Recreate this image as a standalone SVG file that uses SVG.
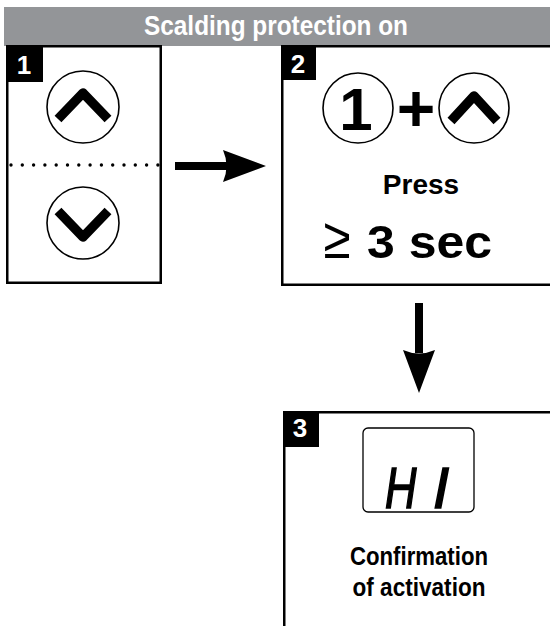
<svg xmlns="http://www.w3.org/2000/svg" width="550" height="626" viewBox="0 0 550 626">
<style>
.box{fill:#fff;stroke:#000;stroke-width:2.5}
.lbl{fill:#000}
.lt{fill:#fff;font-family:"Liberation Sans",Arial,sans-serif;font-weight:bold;font-size:26px;text-anchor:middle}
.btn{fill:none;stroke:#000;stroke-width:1.6}
.chev{fill:none;stroke:#000;stroke-width:9.5;stroke-linejoin:round;stroke-linecap:butt}
.txt{font-family:"Liberation Sans",Arial,sans-serif;font-weight:bold;fill:#000;text-anchor:middle}
</style>
<rect x="4" y="7" width="546" height="39" fill="#939598"/>
<text x="276" y="35" class="txt" style="fill:#fff;font-size:27px" textLength="264" lengthAdjust="spacingAndGlyphs">Scalding protection on</text>

<g id="step1">
<rect class="box" x="7.25" y="46.25" width="153.5" height="236.5"/>
<rect class="lbl" x="6" y="45" width="37" height="37"/>
<text class="lt" x="24" y="74">1</text>
<circle class="btn" cx="83" cy="107" r="36"/>
<polyline class="chev" points="58,119 83,93 108,119"/>
<line x1="11" y1="165" x2="158" y2="165" stroke="#000" stroke-width="3.4" stroke-linecap="round" stroke-dasharray="0 11.3"/>
<circle class="btn" cx="83" cy="223" r="36"/>
<polyline class="chev" points="58,211 83,237 108,211"/>
</g>

<g id="step2">
<rect class="box" x="282.25" y="46.25" width="300" height="238.5"/>
<rect class="lbl" x="281" y="45" width="35" height="35"/>
<text class="lt" x="298" y="73">2</text>
<circle class="btn" cx="358" cy="108" r="35"/>
<text class="txt" x="356" y="130" style="font-size:60px">1</text>
<text class="txt" x="416" y="131" style="font-size:66px">+</text>
<circle class="btn" cx="474" cy="108" r="35"/>
<polyline class="chev" points="451,121 474,96 497,121"/>
<text class="txt" x="421" y="194" style="font-size:28px">Press</text>
<text x="337" y="258" style="font-family:'Liberation Sans',Arial,sans-serif;font-size:58px;text-anchor:middle;fill:#000" transform="translate(337 0) scale(0.85 1) translate(-337 0)">≥</text>
<text x="367" y="258" style="font-family:'Liberation Sans',Arial,sans-serif;font-weight:bold;font-size:47px;fill:#000" textLength="125" lengthAdjust="spacingAndGlyphs">3 sec</text>
</g>

<g id="step3">
<rect class="box" x="284.25" y="412.25" width="300" height="300"/>
<rect class="lbl" x="283" y="411" width="36" height="36"/>
<text class="lt" x="300" y="437">3</text>
<rect x="363" y="428" width="111" height="84" rx="5" fill="none" stroke="#000" stroke-width="1.3"/>
<text x="385" y="508" style="font-family:'Liberation Sans',Arial,sans-serif;font-style:italic;font-size:58px;fill:#000;stroke:#000;stroke-width:1.6" transform="translate(385 0) scale(0.75 1) translate(-385 0)">H</text>
<text x="433" y="508" style="font-family:'Liberation Sans',Arial,sans-serif;font-style:italic;font-size:58px;fill:#000;stroke:#000;stroke-width:1.6">I</text>
<text class="txt" x="419" y="565" style="font-size:26px" textLength="138" lengthAdjust="spacingAndGlyphs">Confirmation</text>
<text class="txt" x="419" y="596" style="font-size:26px" textLength="133" lengthAdjust="spacingAndGlyphs">of activation</text>
</g>

<g id="connectors" fill="#000">
<rect x="175" y="162" width="54" height="8"/>
<path d="M223,150 L266,166 L223,182 Q230,166 223,150 Z"/>
<rect x="415" y="303" width="8" height="50"/>
<path d="M403,350 L419,393 L435,350 Q419,357 403,350 Z"/>
</g>
</svg>
